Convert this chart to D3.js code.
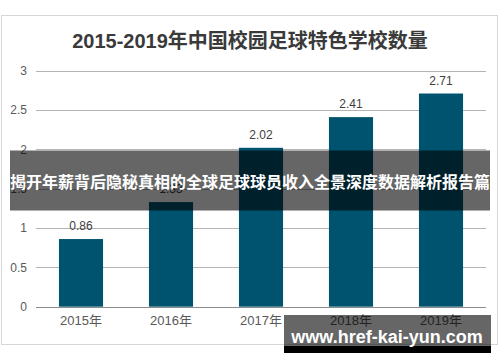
<!DOCTYPE html>
<html>
<head>
<meta charset="utf-8">
<script src="https://cdn.jsdelivr.net/npm/d3@7"></script>
<style>
  html, body { margin: 0; padding: 0; background: #fff; }
  svg { display: block; font-family: "Liberation Sans", Arial, "Noto Sans CJK SC", sans-serif; }
</style>
</head>
<body>
<svg width="500" height="362"></svg>
<script>
// **** Data ****
var years = ["2015年", "2016年", "2017年", "2018年", "2019年"];
var schools = [0.86, 1.33, 2.02, 2.41, 2.71];
var yTicks = [0, 0.5, 1, 1.5, 2, 2.5, 3];
var yTickLabels = ["0", "0.5", "1", "1.5", "2", "2.5", "3"];

var chartTitle = "2015-2019年中国校园足球特色学校数量";
var bannerText = "揭开年薪背后隐秘真相的全球足球球员收入全景深度数据解析报告篇";
var siteText = "www.href-kai-yun.com";

var data = years.map((y, i) => ({ year: y, value: schools[i] }));

// **** Scales ****
var xScale = d3.scaleBand()
    .domain(years).range([36, 486]).paddingInner(0.51).paddingOuter(0.255);

var yScale = d3.scaleLinear()
    .domain([0, 3]).range([306.7, 70.7]);

var svg = d3.select('svg');

// card frame
svg.append("rect")
    .attr("x", 1.5).attr("y", 15.5)
    .attr("width", 496).attr("height", 329)
    .attr("fill", "#fff")
    .attr("stroke", "#d6d6d6");

svg.append("text")
    .attr("text-anchor", "middle")
    .attr("x", 250)
    .attr("y", 47.5)
    .style("font-size", "20px")
    .style("font-weight", "bold")
    .style("fill", "#3a3a3a")
    .text(chartTitle);

// gridlines
svg.append("g")
    .selectAll("line")
    .data(yTicks)
    .enter()
    .append("line")
    .attr("x1", 36).attr("x2", 486)
    .attr("y1", d => Math.round(yScale(d)) + 0.5)
    .attr("y2", d => Math.round(yScale(d)) + 0.5)
    .attr("stroke", d => d === 0 ? "#8c8c8c" : "#b3b3b3")
    .attr("stroke-width", 1);

var yAxis = svg.append('g')
    .attr('transform', 'translate(27,0)')
    .call(d3.axisLeft(yScale).tickValues(yTicks)
        .tickFormat((d, i) => yTickLabels[i]).tickSize(0).tickPadding(0));
yAxis.select(".domain").remove();
yAxis.selectAll("text")
    .style("font-size", "12px")
    .style("fill", "#595959")
    .style("font-family", "Liberation Sans, Arial, sans-serif");

var xAxis = svg.append('g')
    .attr('transform', 'translate(0,313)')
    .call(d3.axisBottom(xScale).tickSize(0).tickPadding(0));
xAxis.select(".domain").remove();
xAxis.selectAll("text")
    .attr("dy", "0.95em")
    .style("font-size", "13px")
    .style("fill", "#595959")
    .style("font-family", "Liberation Sans, Arial, Noto Sans CJK SC, sans-serif");

// bars
svg.selectAll(".bar")
    .data(data)
    .enter()
    .append("rect")
    .attr("class", "bar")
    .attr("x", d => xScale(d.year))
    .attr("width", xScale.bandwidth())
    .attr("y", d => yScale(d.value))
    .attr("height", d => yScale(0) - yScale(d.value))
    .attr("fill", "#00536e");

svg.selectAll(".val")
    .data(data)
    .enter()
    .append("text")
    .attr("class", "val")
    .attr("text-anchor", "middle")
    .attr("x", d => xScale(d.year) + xScale.bandwidth() / 2)
    .attr("y", d => yScale(d.value) - 9)
    .style("font-size", "12px")
    .style("fill", "#404040")
    .text(d => d.value.toFixed(2));

// overlay banner
svg.append("rect")
    .attr("x", 10).attr("y", 150.5)
    .attr("width", 480).attr("height", 60)
    .attr("fill", "rgba(0,0,0,0.6)");

svg.append("text")
    .attr("text-anchor", "middle")
    .attr("x", 250)
    .attr("y", 187.5)
    .style("font-size", "16px")
    .style("font-weight", "bold")
    .style("font-family", "Noto Sans CJK SC, sans-serif")
    .style("fill", "#fff")
    .text(bannerText);

// site watermark
svg.append("rect")
    .attr("x", 284).attr("y", 315)
    .attr("width", 207).attr("height", 31)
    .attr("fill", "rgba(0,0,0,0.6)");
svg.append("rect")
    .attr("x", 284).attr("y", 346)
    .attr("width", 207).attr("height", 7)
    .attr("fill", "#000");

svg.append("text")
    .attr("text-anchor", "middle")
    .attr("x", 387)
    .attr("y", 342.5)
    .style("font-size", "18px")
    .style("font-weight", "bold")
    .style("fill", "#fff")
    .text(siteText);
</script>
</body>
</html>
